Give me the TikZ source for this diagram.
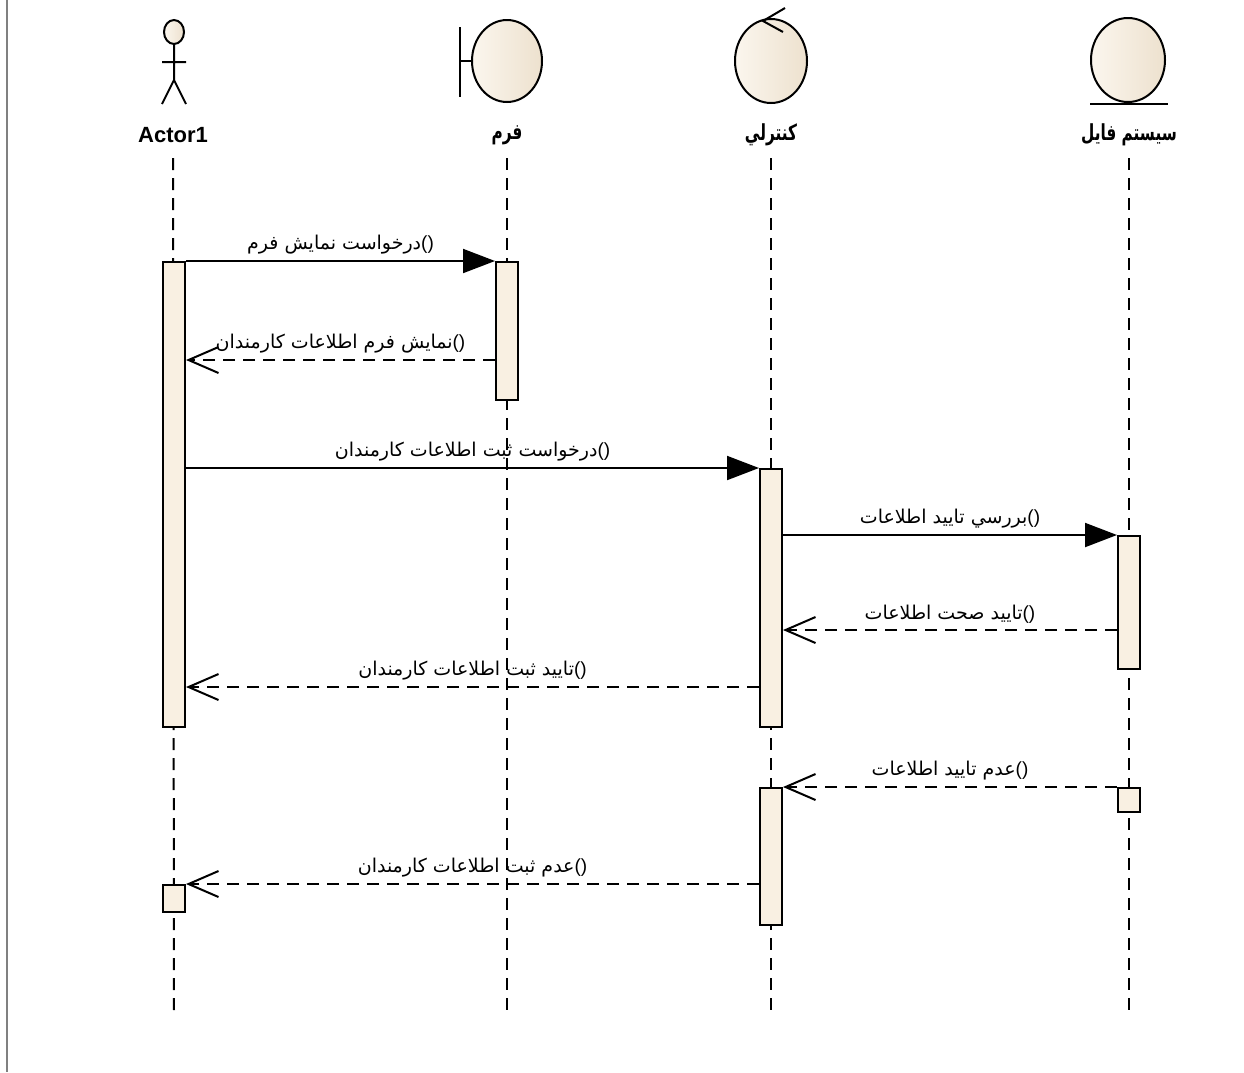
\documentclass[tikz,border=0pt]{standalone}
\usepackage{fontspec}
\usepackage{graphicx}
\setmainfont{Liberation Sans}
\newfontfamily\arabicfont[Script=Arabic]{DejaVu Sans}
\TeXXeTstate=1
\usetikzlibrary{arrows.meta, positioning}
\usepackage{xcolor}
\definecolor{barfill}{RGB}{249,240,226}
\definecolor{iconl}{RGB}{251,246,238}
\definecolor{iconr}{RGB}{237,225,206}
\newcommand{\fa}[1]{{\arabicfont\beginR #1\endR}}
\newcommand{\fahead}[1]{\scalebox{0.9}[1.3]{\fa{#1}}}

\begin{document}
\begin{tikzpicture}[x=1pt, y=-1pt,
  bar/.style={draw=black, line width=2pt, fill=barfill, minimum width=22pt, inner sep=0pt},
  life/.style={line width=2pt, dash pattern=on 12pt off 8pt},
  call/.style={line width=2pt, -{Triangle[length=32pt, width=24pt]}},
  reply/.style={line width=2pt, dash pattern=on 12pt off 8pt, -{Straight Barb[length=30pt, width=26pt, line width=2pt]}},
  msg/.style={above=5pt, font=\fontsize{19}{22}\selectfont, inner sep=1pt},
  head/.style={font=\bfseries\fontsize{22}{24}\selectfont, inner sep=1pt},
  ahead/.style={font=\bfseries\fontsize{17}{20}\selectfont, inner sep=1pt},
  icon/.style={draw=black, line width=2pt, left color=iconl, right color=iconr}]
  \useasboundingbox (0,0) rectangle (1244,1072);
  \draw[gray, line width=1.5pt] (7,0) -- (7,1072);

  % icons
  \draw[icon] (174,32) ellipse (10 and 12);
  \draw[line width=2pt] (174,44) -- (174,80) (162,62) -- (186,62)
    (162,104) -- (174,80) -- (186,104);
  \draw[icon] (507,61) ellipse (35 and 41);
  \draw[line width=2pt] (460,27) -- (460,97) (460,61) -- (472,61);
  \draw[icon] (771,61) ellipse (36 and 42);
  \draw[line width=2pt] (785,8) -- (763,21) -- (783,32);
  \draw[icon] (1128,60) ellipse (37 and 42);
  \draw[line width=2pt] (1090,104) -- (1168,104);

  % heads
  \node[head] (actor) at (173,135) {Actor1};
  \node[ahead] (form) at (507,135) {\fahead{فرم}};
  \node[ahead] (ctrl) at (771,135) {\fahead{كنترلي}};
  \node[ahead] (file) at (1129,135) {\fahead{سيستم فايل}};

  % lifelines
  \coordinate (actorend) at (174,1012);
  \coordinate (formend) at (507,1014);
  \coordinate (ctrlend) at (771,1014);
  \coordinate (fileend) at (1129,1014);
  \draw[life] (actor.south |- 0,158) -- (actorend);
  \draw[life] (form.south |- 0,158) -- (formend);
  \draw[life] (ctrl.south |- 0,158) -- (ctrlend);
  \draw[life] (file.south |- 0,158) -- (fileend);

  % activations
  \node[bar, minimum height=465pt] (a1) at (174,494.5) {};
  \node[bar, minimum height=27pt] (a2) at (174,898.5) {};
  \node[bar, minimum height=138pt] (f1) at (507,331) {};
  \node[bar, minimum height=258pt] (c1) at (771,598) {};
  \node[bar, minimum height=137pt] (c2) at (771,856.5) {};
  \node[bar, minimum height=133pt] (s1) at (1129,602.5) {};
  \node[bar, minimum height=24pt] (s2) at (1129,800) {};

  % messages
  \draw[call] (a1.north east) -- (f1.north west)
    node[msg, midway] {\fa{درخواست نمايش فرم}()};
  \draw[reply] (f1.west |- 0,360) -- (a1.east |- 0,360)
    node[msg, midway] {\fa{نمايش فرم اطلاعات كارمندان}()};
  \draw[call] (a1.east |- c1.north) -- (c1.north west)
    node[msg, midway] {\fa{درخواست ثبت اطلاعات كارمندان}()};
  \draw[call] (c1.east |- s1.north) -- (s1.north west)
    node[msg, midway] {\fa{بررسي تاييد اطلاعات}()};
  \draw[reply] (s1.west |- 0,630) -- (c1.east |- 0,630)
    node[msg, midway] {\fa{تاييد صحت اطلاعات}()};
  \draw[reply] (c1.west |- 0,687) -- (a1.east |- 0,687)
    node[msg, midway] {\fa{تاييد ثبت اطلاعات كارمندان}()};
  \draw[reply] (s2.north west) -- (c2.north east)
    node[msg, midway] {\fa{عدم تاييد اطلاعات}()};
  \draw[reply] (c2.west |- a2.north) -- (a2.north east)
    node[msg, midway] {\fa{عدم ثبت اطلاعات كارمندان}()};
\end{tikzpicture}
\end{document}
